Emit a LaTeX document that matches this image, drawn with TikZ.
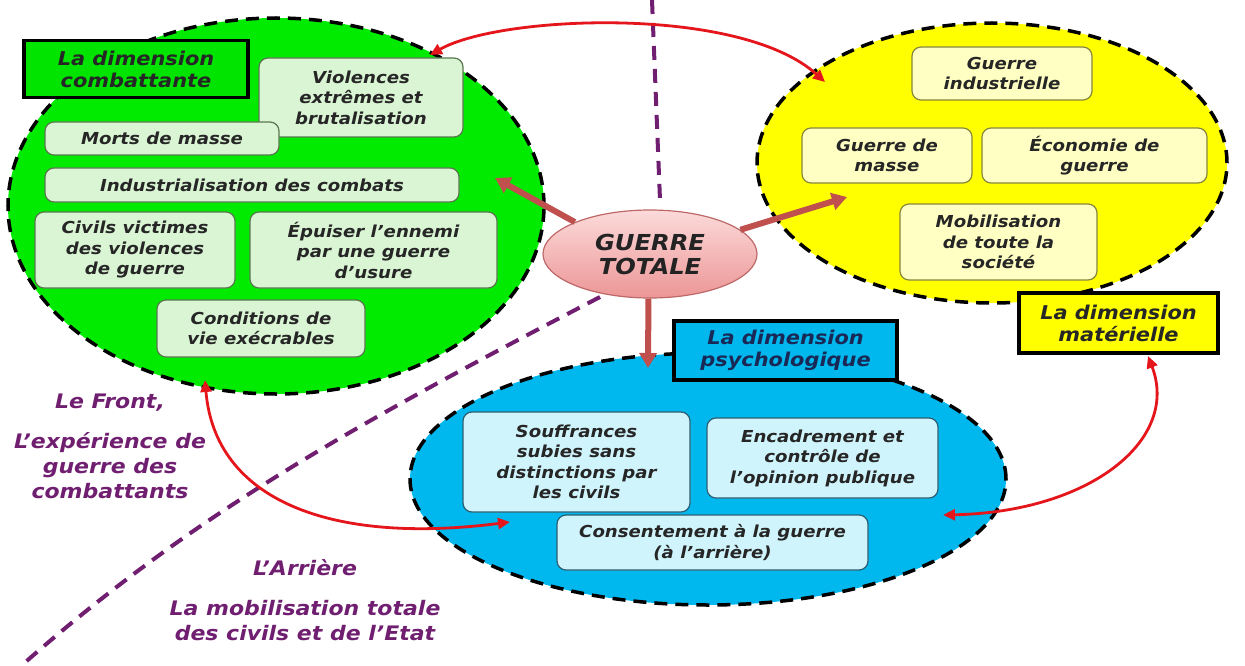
\documentclass[tikz,border=0pt]{standalone}
\usepackage{fontspec}
\setmainfont{DejaVu Sans}[FakeStretch=1.1, BoldFont={DejaVu Sans Bold}, ItalicFont={DejaVu Sans Oblique}, BoldItalicFont={DejaVu Sans Bold Oblique}]
\usetikzlibrary{shapes.geometric,arrows.meta}
\definecolor{cgreen}{RGB}{0,235,0}
\definecolor{cgreenlab}{RGB}{0,228,0}
\definecolor{cgbox}{RGB}{218,245,212}
\definecolor{cgboxd}{RGB}{90,120,80}
\definecolor{cyellow}{RGB}{255,255,0}
\definecolor{cybox}{RGB}{255,255,195}
\definecolor{cyboxd}{RGB}{135,135,60}
\definecolor{cblue}{RGB}{0,183,238}
\definecolor{cbbox}{RGB}{208,244,252}
\definecolor{cbboxd}{RGB}{45,95,115}
\definecolor{cpurple}{RGB}{112,30,112}
\definecolor{cbrown}{RGB}{192,80,77}
\definecolor{cred}{RGB}{228,22,28}
\definecolor{ctext}{RGB}{38,38,38}
\definecolor{cnavy}{RGB}{25,40,85}
\definecolor{cpinkt}{RGB}{252,218,218}
\definecolor{cpinkb}{RGB}{236,150,150}
\definecolor{cpinkd}{RGB}{190,105,105}
\newcommand\bxfont{\fontsize{16.5}{20.5}\selectfont\bfseries\itshape}
\newcommand\lbfont{\fontsize{19}{22}\selectfont\bfseries\itshape}
\newcommand\pufont{\fontsize{20}{25}\selectfont\bfseries\itshape}
\newcommand\gtfont{\fontsize{22}{25}\selectfont\bfseries\itshape}
\begin{document}
\begin{tikzpicture}[x=1pt,y=-1pt,
  zone/.style={ellipse, draw=black, line width=3.5pt, dash pattern=on 13pt off 8pt, inner sep=0pt},
  gbox/.style={rectangle, rounded corners=9pt, draw=cgboxd, fill=cgbox, line width=1.2pt, inner sep=0pt, align=center, font=\bxfont, text=ctext},
  ybox/.style={gbox, draw=cyboxd, fill=cybox},
  bbox/.style={gbox, draw=cbboxd, fill=cbbox},
  label/.style={rectangle, draw=black, line width=3.5pt, inner sep=0pt, align=center, font=\lbfont, text=ctext},
  purtext/.style={anchor=base, inner sep=0pt, font=\pufont, text=cpurple},
  divider/.style={draw=cpurple, line width=4pt, dash pattern=on 14pt off 9pt},
  redarrow/.style={draw=cred, line width=2.8pt, {Triangle[length=12pt,width=11pt]}-{Triangle[length=12pt,width=11pt]}},
  bigarrow/.style={draw=cbrown, line width=6pt, -{Triangle[length=15pt,width=17pt]}}
]
\useasboundingbox (0,0) rectangle (1245,666);
\fill[white] (0,0) rectangle (1245,666);

% zones
\node[zone, fill=cgreen, minimum width=536pt, minimum height=376pt] (green) at (276,206) {};
\node[zone, fill=cyellow, minimum width=470pt, minimum height=280pt] (yellow) at (992,163) {};
\node[zone, fill=cblue, minimum width=596pt, minimum height=252pt] (blue) at (708,479) {};

% dividing lines
\coordinate (dvtop) at (652,0);
\coordinate (dvmid) at (660,200);
\coordinate (dvstart) at (600,297);
\coordinate (dvend) at (21,666);
\draw[divider] (dvtop) -- (dvmid);
\draw[divider] (dvstart) .. controls (350,427) and (191,516) .. (dvend);

% combattante
\node[label, fill=cgreenlab, minimum width=224pt, minimum height=57pt] (lcomb) at (136,69) {La dimension\\combattante};
\node[gbox, minimum width=204pt, minimum height=79pt] (viol) at (361,97.5) {Violences\\extrêmes et\\brutalisation};
\node[gbox, minimum width=234pt, minimum height=33pt] (morts) at (162,138.5) {Morts de masse};
\node[gbox, minimum width=414pt, minimum height=34pt] (indus) at (252,185) {Industrialisation des combats};
\node[gbox, minimum width=200pt, minimum height=76pt] (civils) at (135,250) {Civils victimes\\des violences\\de guerre};
\node[gbox, minimum width=247pt, minimum height=76pt] (epuis) at (373.5,250) {Épuiser l’ennemi\\par une guerre\\d’usure};
\node[gbox, minimum width=208pt, minimum height=57pt] (condi) at (261,328.5) {Conditions de\\vie exécrables};

% materielle
\node[ybox, minimum width=180pt, minimum height=53pt] (gind) at (1002,73.5) {Guerre\\industrielle};
\node[ybox, minimum width=170pt, minimum height=55pt] (gmas) at (887,155.5) {Guerre de\\masse};
\node[ybox, minimum width=225pt, minimum height=55pt] (econ) at (1094.5,155.5) {Économie de\\guerre};
\node[ybox, minimum width=197pt, minimum height=76pt] (mobi) at (998.5,242) {Mobilisation\\de toute la\\société};
\node[label, fill=cyellow, minimum width=199pt, minimum height=60pt] (lmat) at (1118.5,323) {La dimension\\matérielle};

% psychologique
\node[label, fill=cblue, text=cnavy, minimum width=223pt, minimum height=59pt] (lpsy) at (785.5,350.5) {La dimension\\psychologique};
\node[bbox, minimum width=227pt, minimum height=100pt] (souf) at (576.5,462) {Souffrances\\subies sans\\distinctions par\\les civils};
\node[bbox, minimum width=231pt, minimum height=80pt] (enca) at (822.5,458) {Encadrement et\\contrôle de\\l’opinion publique};
\node[bbox, minimum width=311pt, minimum height=55pt] (cons) at (712.5,542.5) {Consentement à la guerre\\(à l’arrière)};

% centre
\node[ellipse, draw=cpinkd, line width=1.2pt, top color=cpinkt, bottom color=cpinkb, minimum width=214pt, minimum height=88pt, inner sep=0pt, align=center, font=\gtfont, text={rgb,255:red,35;green,35;blue,35}] (gt) at (650,254) {GUERRE\\[-1pt]TOTALE};

% red links
\coordinate (tgA) at (430,55);
\coordinate (tyA) at (825,82);
\coordinate (tgB) at (205,380);
\coordinate (tbB) at (510,522);
\coordinate (tmC) at (1148,356);
\coordinate (tbC) at (943,515);
\draw[redarrow] (tgA) .. controls (500,15) and (740,5) .. (tyA);
\draw[redarrow] (tgB) .. controls (215,500) and (330,545) .. (tbB);
\draw[redarrow] (tmC) .. controls (1180,440) and (1090,512) .. (tbC);

% centre arrows
\coordinate (bgL) at (495,178);
\coordinate (bgR) at (847,197);
\coordinate (bgD) at (648,368);
\draw[bigarrow] (gt.157) -- (bgL);
\draw[bigarrow] (gt.15) -- (bgR);
\draw[bigarrow] (gt.268) -- (bgD);

% purple texts
\node[purtext] (front1) at (110,408) {Le Front,};
\node[purtext] (front2) at (110,448) {L’expérience de};
\node[purtext] (front3) at (110,473) {guerre des};
\node[purtext] (front4) at (110,498) {combattants};
\node[purtext] (arr1) at (305,575) {L’Arrière};
\node[purtext] (arr2) at (305,615) {La mobilisation totale};
\node[purtext] (arr3) at (305,640) {des civils et de l’Etat};
\end{tikzpicture}
\end{document}
